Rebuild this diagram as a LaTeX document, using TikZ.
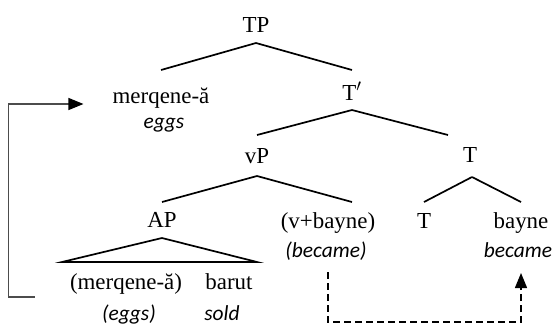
\documentclass[tikz,border=0pt]{standalone}
\usepackage{fontspec}
\setmainfont{Liberation Serif}
\newfontfamily\glossfont{Carlito}
\usetikzlibrary{arrows.meta}

\tikzset{
  word/.style={anchor=base, inner sep=0pt, font=\fontsize{23}{27}\selectfont},
  gloss/.style={anchor=base, inner sep=0pt, font=\glossfont\itshape\fontsize{21.5}{26}\selectfont},
  branch/.style={line width=1.7bp},
  move/.style={line width=1.2bp, -{Triangle[length=15bp,width=12bp,color=black]}},
  trace/.style={move, line width=1.4bp, dash pattern=on 7bp off 4bp},
}

\begin{document}
\begin{tikzpicture}[x=1bp,y=-1bp]
\useasboundingbox (0,0) rectangle (557,329);

\node[word] (TP) at (256,32) {TP};
\node[word] (mq) at (161,103) {merqene-ă};
\node[gloss] (eggs) at (164,128) {eggs};
\node[word] (Tbar) at (352,100) {T$'$};

\node[word] (vP) at (257,163) {vP};
\node[word] (Tr) at (470,162) {T};

\node[word] (AP) at (162,227) {AP};
\node[word] (vb) at (328,228) {(v+bayne)};
\node[gloss] (vbg) at (326,257) {(became)};
\node[word] (Tl) at (424,228) {T};
\node[word] (bayne) at (521,228) {bayne};
\node[gloss] (became) at (518,257) {became};

\node[word] (mqt) at (126,289) {(merqene-ă)};
\node[word] (barut) at (229,289) {barut};
\node[gloss] (eggst) at (129,320) {(eggs)};
\node[gloss] (sold) at (222,320) {sold};

\coordinate (apl) at (62,262);
\coordinate (apr) at (257,262);

\draw[branch] ([yshift=-11bp]TP.base) -- ([yshift=33bp]mq.base);
\draw[branch] ([yshift=-11bp]TP.base) -- ([yshift=30bp]Tbar.base);
\draw[branch] ([yshift=-10bp]Tbar.base) -- ([yshift=28bp]vP.base);
\draw[branch] ([yshift=-10bp]Tbar.base) -- ([shift={(-22bp,27bp)}]Tr.base);
\draw[branch] ([yshift=-13bp]vP.base) -- ([yshift=25bp]AP.base);
\draw[branch] ([yshift=-13bp]vP.base) -- ([shift={(24bp,26bp)}]vb.base);
\draw[branch] ([shift={(2bp,-15bp)}]Tr.base) -- ([yshift=26bp]Tl.base);
\draw[branch] ([shift={(2bp,-15bp)}]Tr.base) -- ([yshift=26bp]bayne.base);
\draw[branch] (apl) -- ([yshift=-11bp]AP.base) -- (apr) -- cycle;

% movement arrows
\draw[move, draw=black!70] ([shift={(-35bp,-8bp)}]mqt.base west) -- ++(-26,0)
  |- ([shift={(-29bp,-1bp)}]mq.base west);
\draw[trace] ([yshift=-44bp]vb.base) -- ++(0,50) -| ([yshift=-45bp]bayne.base);
\end{tikzpicture}
\end{document}
